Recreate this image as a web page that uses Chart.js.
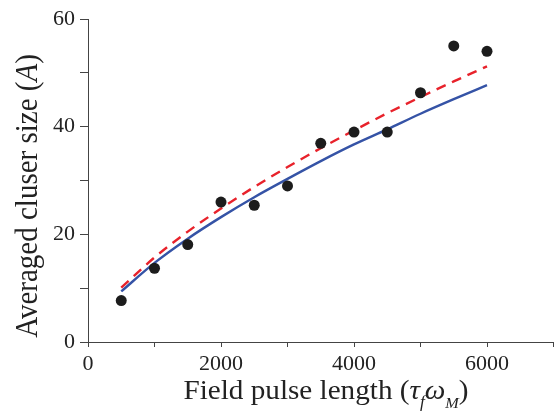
<!DOCTYPE html>
<html>
<head>
<meta charset="utf-8">
<script src="https://cdn.jsdelivr.net/npm/chart.js@4"></script>
<style>
  body { margin: 0; background: #fff; }
  #wrap { width: 559px; height: 419px; }
</style>
</head>
<body>
<div id="wrap"><canvas id="clusterChart"></canvas></div>
<script>
// pulse length values (tau_f * omega_M)
const pulseLengths = [500, 1000, 1500, 2000, 2500, 3000, 3500, 4000, 4500, 5000, 5500, 6000];
// simulated averaged cluster size (black dots)
const clusterSizes = [7.7, 13.7, 18.1, 26.0, 25.4, 29.0, 36.9, 39.0, 39.0, 46.3, 55.0, 54.0];
// blue solid fit
const fitBlue = [9.4, 14.7, 19.2, 23.2, 26.9, 30.3, 33.6, 36.7, 39.5, 42.4, 45.1, 47.7];
// red dashed fit
const fitRed = [10.1, 15.7, 20.5, 24.8, 28.8, 32.5, 36.0, 39.3, 42.5, 45.5, 48.4, 51.2];

const xTicks = [0, 2000, 4000, 6000];
const yTicks = [0, 20, 40, 60];

const serif = '"Liberation Serif", "DejaVu Serif", serif';
const toPts = ys => pulseLengths.map((x, i) => ({ x: x, y: ys[i] }));

// draw a row of text pieces with different fonts / offsets, centred on x
function drawRuns(ctx, runs, cx, cy) {
    let total = 0;
    runs.forEach(r => { ctx.font = r.font; total += ctx.measureText(r.t).width; });
    let x = cx - total / 2;
    runs.forEach(r => {
        ctx.font = r.font;
        ctx.fillText(r.t, x, cy + (r.dy || 0));
        x += ctx.measureText(r.t).width;
    });
}

const axisTitles = {
    id: 'axisTitles',
    afterDraw(chart) {
        const ctx = chart.ctx;
        ctx.save();
        ctx.fillStyle = '#222';
        ctx.textBaseline = 'alphabetic';
        ctx.textAlign = 'left';

        // x title, slightly wide like the original
        ctx.save();
        ctx.translate(326, 399);
        ctx.scale(1.08, 1);
        drawRuns(ctx, [
            { t: 'Field pulse length (', font: '27px ' + serif },
            { t: 'τ', font: 'italic 27px ' + serif },
            { t: 'f', font: 'italic 16px ' + serif, dy: 8 },
            { t: 'ω', font: 'italic 27px ' + serif },
            { t: 'M', font: 'italic 15px ' + serif, dy: 9 },
            { t: ')', font: '27px ' + serif }
        ], 0, 0);
        ctx.restore();

        // y title
        ctx.translate(37, 196);
        ctx.rotate(-Math.PI / 2);
        ctx.scale(1, 1.1);
        drawRuns(ctx, [
            { t: 'Averaged cluser size (', font: '29px ' + serif },
            { t: 'A', font: 'italic 29px ' + serif },
            { t: ')', font: '29px ' + serif }
        ], 0, 0);
        ctx.restore();
    }
};

new Chart(document.getElementById('clusterChart'), {
    type: 'line',
    data: {
        datasets: [
            {
                label: 'Simulation',
                data: toPts(clusterSizes),
                showLine: false,
                pointRadius: 5.5,
                pointBackgroundColor: '#1c1c1c',
                pointBorderWidth: 0,
                order: 0
            },
            {
                label: 'Fit 1',
                data: toPts(fitBlue),
                borderColor: '#3553a6',
                borderWidth: 2.4,
                pointRadius: 0,
                cubicInterpolationMode: 'monotone',
                order: 2
            },
            {
                label: 'Fit 2',
                data: toPts(fitRed),
                borderColor: '#e8222b',
                borderWidth: 2.4,
                borderDash: [10, 7],
                pointRadius: 0,
                cubicInterpolationMode: 'monotone',
                order: 1
            }
        ]
    },
    options: {
        responsive: true,
        maintainAspectRatio: false,
        animation: false,
        layout: { padding: { top: 19, right: 3, left: 0, bottom: 0 } },
        plugins: {
            legend: { display: false },
            tooltip: { enabled: false }
        },
        scales: {
            x: {
                type: 'linear',
                min: 0,
                max: 7000,
                afterFit: s => { s.height = 77; },
                border: { color: '#444', width: 1 },
                grid: { drawOnChartArea: false, tickLength: 5, color: '#444' },
                ticks: {
                    stepSize: 1000,
                    padding: 4,
                    color: '#222',
                    font: { family: serif, size: 22 },
                    maxRotation: 0,
                    callback: v => xTicks.includes(v) ? String(v) : ''
                }
            },
            y: {
                min: 0,
                max: 60,
                afterFit: s => { s.width = 88; },
                border: { color: '#444', width: 1 },
                grid: { drawOnChartArea: false, tickLength: 8, color: '#444' },
                ticks: {
                    stepSize: 10,
                    padding: 5,
                    color: '#222',
                    font: { family: serif, size: 22 },
                    callback: v => yTicks.includes(v) ? String(v) : ''
                }
            }
        }
    },
    plugins: [axisTitles]
});
</script>
</body>
</html>
